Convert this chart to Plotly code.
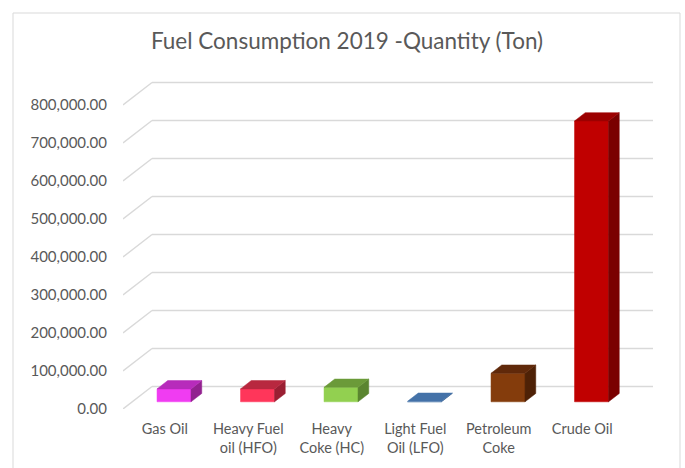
import plotly.graph_objects as go

# ---- data ----
categories = ["Gas Oil", "Heavy Fuel<br>oil (HFO)", "Heavy<br>Coke (HC)",
              "Light Fuel<br>Oil (LFO)", "Petroleum<br>Coke", "Crude Oil"]
values = [34000, 34000, 38000, 1200, 75000, 739000]
tick_values = [0, 100000, 200000, 300000, 400000, 500000, 600000, 700000, 800000]

front_colors = ["#F03CF2", "#FF365A", "#92D050", "#4A78AC", "#843C0C", "#C00000"]
top_colors = ["#B72BBB", "#B8283F", "#6B9A39", "#4472A8", "#60290A", "#9C0000"]
side_colors = ["#92218F", "#9A1F33", "#5A8530", "#3A6090", "#4E2106", "#7A0000"]

# ---- geometry (pixels -> data units) ----
W, H = 685, 468
PL, PR, PT, PB = 123, 653, 78, 409          # plot area in pixels
PX_PER_CAT = 83.5
PX_PER_VAL = 38 / 100000
x_min = -0.5
x_max = x_min + (PR - PL) / PX_PER_CAT
y_max = (PB - PT) / PX_PER_VAL

wall_dx = 29 / PX_PER_CAT                   # depth of the side wall
wall_dy = 22.5 / PX_PER_VAL
f0, f1 = 0.32, 0.69                         # bar depth placement (fraction of wall)
bar_w = 34 / PX_PER_CAT

fig = go.Figure()

# gridlines: diagonal on the side wall, horizontal on the back wall
shapes = []
for t in tick_values:
    shapes.append(dict(type="line", xref="x", yref="y", layer="below",
                       x0=x_min, y0=t, x1=x_min + wall_dx, y1=t + wall_dy,
                       line=dict(color="#D9D9D9", width=1.4)))
    shapes.append(dict(type="line", xref="x", yref="y", layer="below",
                       x0=x_min + wall_dx, y0=t + wall_dy, x1=x_max, y1=t + wall_dy,
                       line=dict(color="#D9D9D9", width=1.4)))

# outer chart border
shapes.append(dict(type="rect", xref="paper", yref="paper",
                   x0=(13 - PL) / (PR - PL), x1=(680 - PL) / (PR - PL),
                   y0=(PB - 500) / (PB - PT), y1=(PB - 13) / (PB - PT),
                   line=dict(color="#D9D9D9", width=1), layer="below"))

# bars (front, top and side faces)
ddx = (f1 - f0) * wall_dx
ddy = (f1 - f0) * wall_dy
for i, v in enumerate(values):
    c = i + f0 * wall_dx
    base = f0 * wall_dy
    xl, xr = c - bar_w / 2, c + bar_w / 2
    top = base + v
    fig.add_trace(go.Scatter(
        x=[xl, xr, xr, xl, xl], y=[base, base, top, top, base],
        mode="lines", fill="toself", fillcolor=front_colors[i],
        line=dict(color=front_colors[i], width=0.5),
        hoverinfo="skip", showlegend=False))
    fig.add_trace(go.Scatter(
        x=[xr, xr, xr + ddx, xr + ddx, xr],
        y=[base, top, top + ddy, base + ddy, base],
        mode="lines", fill="toself", fillcolor=side_colors[i],
        line=dict(color=side_colors[i], width=0.5),
        hoverinfo="skip", showlegend=False))
    fig.add_trace(go.Scatter(
        x=[xl, xr, xr + ddx, xl + ddx, xl],
        y=[top, top, top + ddy, top + ddy, top],
        mode="lines", fill="toself", fillcolor=top_colors[i],
        line=dict(color=top_colors[i], width=0.5),
        hoverinfo="skip", showlegend=False))

fig.update_layout(
    width=W, height=H,
    margin=dict(l=PL, r=W - PR, t=PT, b=H - PB, autoexpand=False),
    paper_bgcolor="white", plot_bgcolor="rgba(0,0,0,0)",
    font=dict(family="Lato, 'Open Sans', sans-serif", color="#595959", size=14),
    title=dict(text="Fuel Consumption 2019 -Quantity (Ton)",
               x=347 / W, xref="container", xanchor="center",
               y=1 - 41 / H, yref="container", yanchor="middle",
               font=dict(size=22.5, color="#595959")),
    showlegend=False,
    xaxis=dict(range=[x_min, x_max], tickmode="array",
               tickvals=list(range(len(categories))), ticktext=categories,
               tickfont=dict(size=14.5),
               showgrid=False, zeroline=False, showline=False,
               ticks="outside", ticklen=7, tickcolor="rgba(0,0,0,0)",
               fixedrange=True),
    yaxis=dict(range=[0, y_max], tickmode="array", tickvals=tick_values,
               tickformat=",.2f", tickfont=dict(size=15),
               showgrid=False, zeroline=False, showline=False,
               ticks="outside", ticklen=12, tickcolor="rgba(0,0,0,0)",
               fixedrange=True),
    shapes=shapes,
)

fig.write_html("out.html",
               config={"displayModeBar": False},
               post_script="document.body.style.margin='0';document.body.style.overflow='hidden';")
